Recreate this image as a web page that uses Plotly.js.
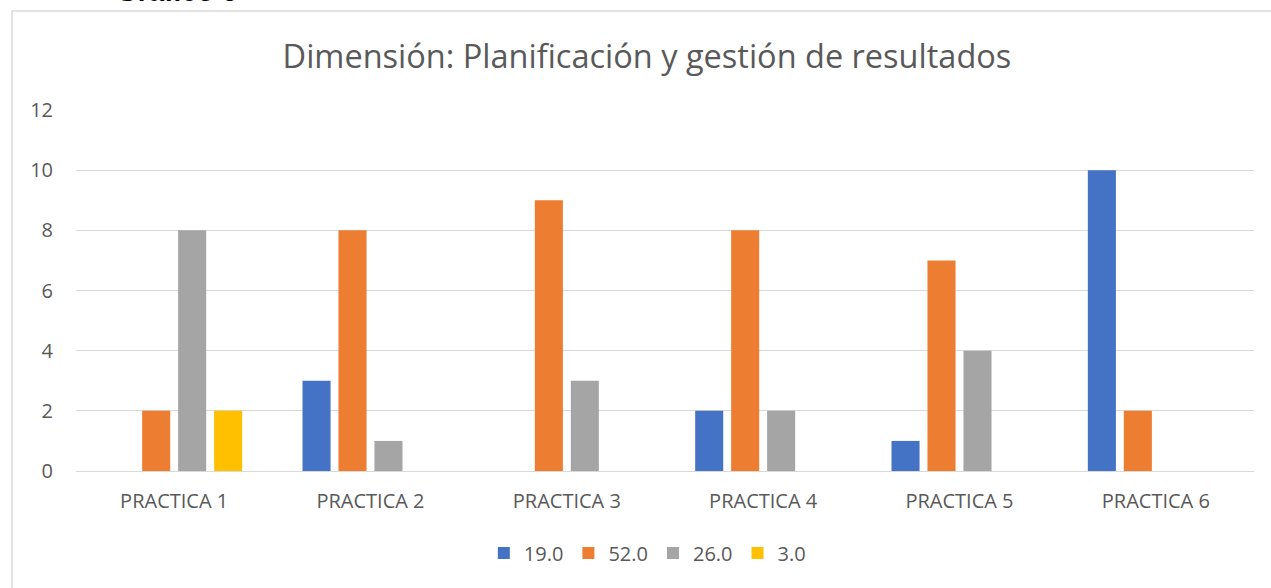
<!DOCTYPE html>
<html>
<head>
<meta charset="utf-8">
<script src="https://cdn.plot.ly/plotly-3.0.1.min.js"></script>
<style>html,body{margin:0;padding:0;background:#fff;}#chart{width:1271px;height:588px;}</style>
</head>
<body>
<div id="chart"></div>
<script>
const categories = ["PRACTICA 1", "PRACTICA 2", "PRACTICA 3", "PRACTICA 4", "PRACTICA 5", "PRACTICA 6"];
const seriesNames = ["19.0", "52.0", "26.0", "3.0"];
const s19 = [0, 3, 0, 2, 1, 10];
const s52 = [2, 8, 9, 8, 7, 2];
const s26 = [8, 1, 3, 2, 4, 0];
const s3 = [2, 0, 0, 0, 0, 0];
const colors = ["#4472C4", "#ED7D31", "#A5A5A5", "#FFC000"];
const yTicks = [0, 2, 4, 6, 8, 10, 12];

const values = [s19, s52, s26, s3];
const font = "'Open Sans', Lato, sans-serif";
const data = values.map((v, i) => ({
  type: "bar",
  name: seriesNames[i],
  x: categories,
  y: v,
  marker: {color: colors[i]},
  hoverinfo: "x+y+name"
}));

const layout = {
  width: 1271, height: 588,
  margin: {l: 76, r: 17, t: 110, b: 117},
  paper_bgcolor: "#ffffff", plot_bgcolor: "#ffffff",
  font: {family: font, color: "#595959", size: 20},
  title: {text: "Dimensión: Planificación y gestión de resultados", font: {family: font, size: 32.5, color: "#595959"}, x: 0.509, xanchor: "center", y: 0.903, yanchor: "middle"},
  barmode: "group", bargap: 0.267, bargroupgap: 0.22,
  xaxis: {type: "category", showgrid: false, zeroline: false, showline: false, ticks: "", ticklabelstandoff: 16, tickfont: {size: 20, color: "#595959"}, automargin: false},
  yaxis: {range: [0, 12], tickvals: yTicks, ticktext: yTicks.map(String), showgrid: true, gridcolor: "#d9d9d9", gridwidth: 1, zeroline: true, zerolinecolor: "#d9d9d9", zerolinewidth: 1, showline: false, ticks: "", ticklen: 0, ticklabelstandoff: 22, tickfont: {size: 20, color: "#595959"}, automargin: false},
  legend: {orientation: "h", x: 0.485, xanchor: "center", y: -0.227, yanchor: "middle", font: {size: 20, color: "#595959"}, itemwidth: 30, tracegroupgap: 0},
  showlegend: true,
  shapes: [{type: "rect", xref: "paper", yref: "paper", x0: -0.0543, x1: 1.05, y0: -0.5, y1: 1.274, line: {color: "#d9d9d9", width: 1.5}, fillcolor: "rgba(0,0,0,0)", layer: "below"}],
  annotations: [{text: "<b>Gráfico 6</b>", xref: "paper", yref: "paper", x: 0.085, y: 1.327, xanchor: "center", yanchor: "middle", showarrow: false, font: {family: "'Liberation Sans', Arial, sans-serif", size: 28, color: "#000000"}}]
};

Plotly.newPlot("chart", data, layout, {displayModeBar: false, staticPlot: true});
</script>
</body>
</html>
